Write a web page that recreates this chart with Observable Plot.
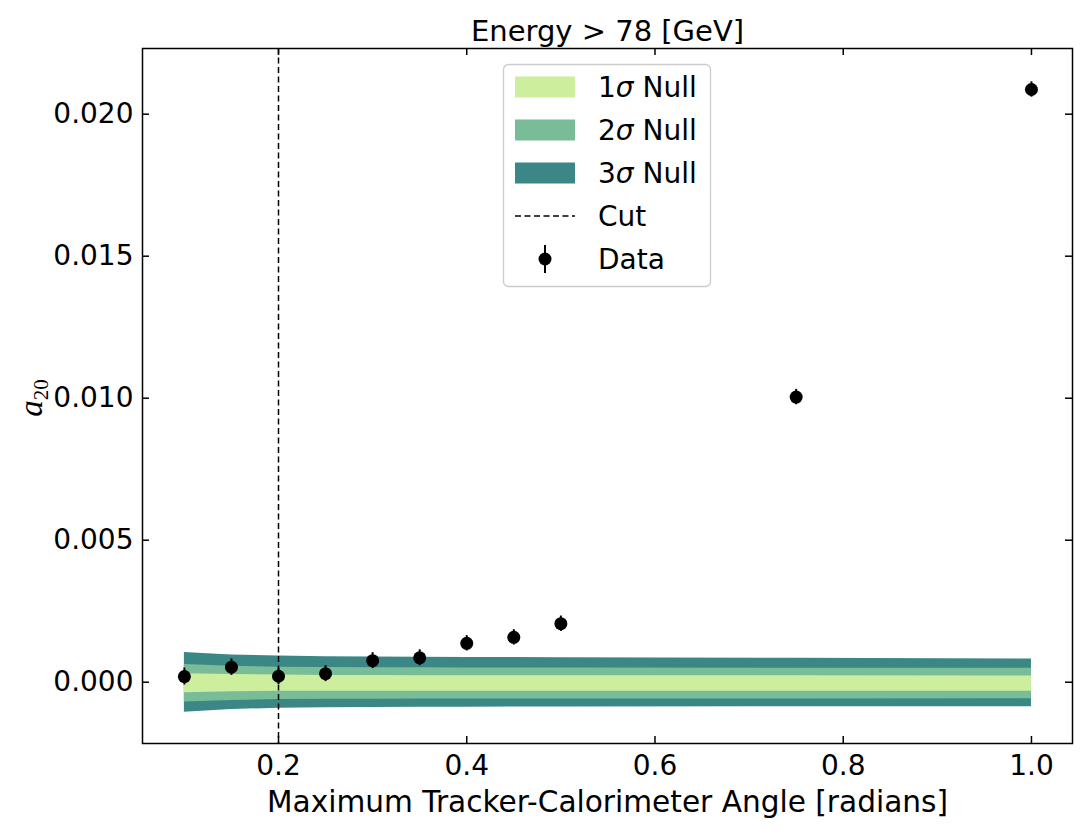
<!DOCTYPE html>
<html>
<head>
<meta charset="utf-8">
<script src="https://cdn.jsdelivr.net/npm/d3@7"></script>
<script src="https://cdn.jsdelivr.net/npm/@observablehq/plot@0.6"></script>
<style>
  body { margin: 0; background: #fff; }
  #chart { position: relative; width: 1088px; height: 830px; }
</style>
</head>
<body>
<div id="chart"></div>
<script>
// Measured a20 coefficient versus the tracker–calorimeter angle cut
const angle  = [0.10, 0.15, 0.20, 0.25, 0.30, 0.35, 0.40, 0.45, 0.50, 0.75, 1.00];
const a20    = [0.00020, 0.00053, 0.00021, 0.00030, 0.00076, 0.00086, 0.00137, 0.00158, 0.00206, 0.01004, 0.02087];
const a20Err = [0.00030, 0.00029, 0.00029, 0.00028, 0.00028, 0.00028, 0.00027, 0.00027, 0.00027, 0.00027, 0.00027];

// Null-hypothesis envelopes (1σ, 2σ, 3σ)
const bandAngle = [0.10, 0.15, 0.20, 0.25, 0.30, 0.35, 0.40, 0.45, 0.50, 0.75, 1.00];
const sig1Hi = [0.00030, 0.00027, 0.00025, 0.00024, 0.00024, 0.00023, 0.00023, 0.00023, 0.00023, 0.00023, 0.00022];
const sig1Lo = [-0.00037, -0.00034, -0.00032, -0.00032, -0.00032, -0.00032, -0.00032, -0.00032, -0.00032, -0.00032, -0.00032];
const sig2Hi = [0.00062, 0.00056, 0.00053, 0.00052, 0.00051, 0.00051, 0.00050, 0.00050, 0.00050, 0.00049, 0.00049];
const sig2Lo = [-0.00070, -0.00064, -0.00061, -0.00060, -0.00060, -0.00059, -0.00059, -0.00059, -0.00059, -0.00059, -0.00058];
const sig3Hi = [0.00105, 0.00096, 0.00092, 0.00090, 0.00089, 0.00088, 0.00087, 0.00087, 0.00086, 0.00084, 0.00082];
const sig3Lo = [-0.00106, -0.00096, -0.00092, -0.00090, -0.00089, -0.00088, -0.00088, -0.00087, -0.00087, -0.00086, -0.00086];

const cutAngle = [0.2];
const xTicks = [0.2, 0.4, 0.6, 0.8, 1.0];
const yTicks = [0.000, 0.005, 0.010, 0.015, 0.020];

const titleText = "Energy > 78 [GeV]";
const xLabelText = "Maximum Tracker-Calorimeter Angle [radians]";
const legendNums = ["1", "2", "3"];
const bandColors = ["#cdef9d", "#79bd98", "#3b8786"];

const W = 1088, H = 830;
const mL = 142, mR = 16, mT = 48, mB = 87;
const innerW = W - mL - mR, innerH = H - mT - mB;
const tickLen = 7;
const font = '"DejaVu Sans", sans-serif';

const points = angle.map((x, i) => ({x, y: a20[i], e: a20Err[i]}));
const band = bandAngle.map((x, i) => ({
  x,
  s1lo: sig1Lo[i], s1hi: sig1Hi[i],
  s2lo: sig2Lo[i], s2hi: sig2Hi[i],
  s3lo: sig3Lo[i], s3hi: sig3Hi[i]
}));

const tickStyle = {stroke: "black", strokeWidth: 1.5};

const plot = Plot.plot({
  width: W, height: H,
  marginLeft: mL, marginRight: mR, marginTop: mT, marginBottom: mB,
  style: {fontFamily: font, fontSize: "28px", color: "black", background: "white", overflow: "visible"},
  x: {domain: [0.0555, 1.0436]},
  y: {domain: [-0.002158, 0.022313]},
  marks: [
    Plot.areaY(band, {x: "x", y1: "s3lo", y2: "s3hi", fill: bandColors[2]}),
    Plot.areaY(band, {x: "x", y1: "s2lo", y2: "s2hi", fill: bandColors[1]}),
    Plot.areaY(band, {x: "x", y1: "s1lo", y2: "s1hi", fill: bandColors[0]}),
    Plot.ruleX(cutAngle, {stroke: "black", strokeWidth: 1.5, strokeDasharray: "6,3.5"}),
    Plot.ruleX(points, {x: "x", y1: d => d.y - d.e, y2: d => d.y + d.e, stroke: "black", strokeWidth: 2}),
    Plot.dot(points, {x: "x", y: "y", r: 6.5, fill: "black"}),
    Plot.frame({stroke: "black", strokeWidth: 1.5}),
    // inward ticks on all four sides
    Plot.ruleX(xTicks, {...tickStyle, insetTop: innerH - tickLen}),
    Plot.ruleX(xTicks, {...tickStyle, insetBottom: innerH - tickLen}),
    Plot.ruleY(yTicks, {...tickStyle, insetRight: innerW - tickLen}),
    Plot.ruleY(yTicks, {...tickStyle, insetLeft: innerW - tickLen}),
    Plot.axisX(xTicks, {tickSize: 0, tickPadding: 12, tickFormat: d3.format(".1f"), label: null, fontSize: 28}),
    Plot.axisY(yTicks, {tickSize: 0, tickPadding: 9, tickFormat: d3.format(".3f"), label: null, fontSize: 28}),
    Plot.text([titleText], {text: d => d, frameAnchor: "top", lineAnchor: "bottom", dy: -8, fontSize: 29}),
    Plot.text([xLabelText], {text: d => d, frameAnchor: "bottom", lineAnchor: "bottom", dy: 68, fontSize: 29.6})
  ]
});

document.getElementById("chart").appendChild(plot);
const svg = d3.select(plot);

// y-axis label: italic a with subscript 20
const yl = svg.append("text")
  .attr("transform", "translate(42,398) rotate(-90)")
  .attr("text-anchor", "middle")
  .attr("font-family", '"Liberation Serif", serif')
  .attr("fill", "black");
yl.append("tspan").attr("font-style", "italic").attr("font-size", 33).text("a");
yl.append("tspan").attr("font-size", 21).attr("dy", 6).text("20");

// legend
const lg = svg.append("g")
  .attr("font-family", font).attr("font-size", 28).attr("fill", "black")
  .attr("text-anchor", "start");
lg.append("rect")
  .attr("x", 503.5).attr("y", 64.5).attr("width", 207).attr("height", 222).attr("rx", 5)
  .attr("fill", "white").attr("fill-opacity", 0.8).attr("stroke", "#cccccc").attr("stroke-width", 1.3);
const rowY = [87, 130, 173, 216, 259];
legendNums.forEach((n, i) => {
  lg.append("rect").attr("x", 515).attr("y", rowY[i] - 10.5).attr("width", 60).attr("height", 21)
    .attr("fill", bandColors[i]);
  const t = lg.append("text").attr("x", 598).attr("y", rowY[i] + 10);
  t.append("tspan").text(n);
  t.append("tspan").attr("font-style", "italic").text("σ");
  t.append("tspan").text(" Null");
});
lg.append("line").attr("x1", 515).attr("x2", 575).attr("y1", rowY[3]).attr("y2", rowY[3])
  .attr("stroke", "black").attr("stroke-width", 1.5).attr("stroke-dasharray", "6,3.5");
lg.append("text").attr("x", 598).attr("y", rowY[3] + 10).text("Cut");
lg.append("line").attr("x1", 545).attr("x2", 545).attr("y1", rowY[4] - 14).attr("y2", rowY[4] + 14)
  .attr("stroke", "black").attr("stroke-width", 2);
lg.append("circle").attr("cx", 545).attr("cy", rowY[4]).attr("r", 6.5).attr("fill", "black");
lg.append("text").attr("x", 598).attr("y", rowY[4] + 10).text("Data");
</script>
</body>
</html>
